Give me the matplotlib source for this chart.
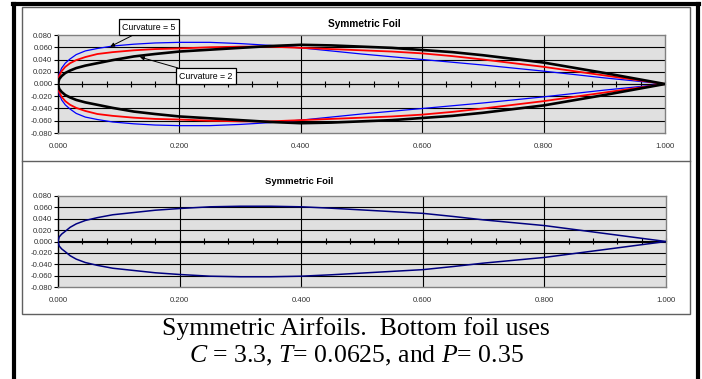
import numpy as np
import matplotlib
matplotlib.use("Agg")
import matplotlib.pyplot as plt
from matplotlib.lines import Line2D

plt.rcParams['font.family'] = ['Liberation Sans', 'DejaVu Sans']
plt.rcParams['mathtext.fontset'] = 'custom'
plt.rcParams['mathtext.rm'] = 'Liberation Serif'
plt.rcParams['mathtext.it'] = 'Liberation Serif:italic'

# chord stations and upper-surface half thickness (lower surface is the mirror)
x_sta = [0, 0.002, 0.006, 0.012, 0.02, 0.03, 0.045, 0.065, 0.09, 0.125, 0.16,
         0.2, 0.25, 0.3, 0.35, 0.4, 0.45, 0.5, 0.55, 0.6, 0.65, 0.7, 0.8,
         0.9, 1.0]
y_curv5 = [0, 0.016, 0.026, 0.034, 0.041, 0.048, 0.054, 0.058, 0.062, 0.065,
           0.067, 0.068, 0.068, 0.066, 0.063, 0.059, 0.054, 0.049, 0.0445,
           0.040, 0.0355, 0.031, 0.021, 0.010, 0]
y_curv3 = [0, 0.013, 0.021, 0.028, 0.034, 0.039, 0.044, 0.049, 0.052, 0.055,
           0.057, 0.058, 0.060, 0.061, 0.061, 0.059, 0.057, 0.055, 0.053,
           0.050, 0.0455, 0.040, 0.028, 0.014, 0]
y_curv2 = [0, 0.008, 0.013, 0.018, 0.022, 0.026, 0.030, 0.034, 0.039, 0.045,
           0.049, 0.053, 0.056, 0.059, 0.062, 0.064, 0.063, 0.061, 0.059,
           0.0555, 0.052, 0.047, 0.035, 0.018, 0]
y_bottom = [0, 0.008, 0.013, 0.018, 0.025, 0.031, 0.037, 0.042, 0.047, 0.051,
            0.055, 0.058, 0.061, 0.062, 0.062, 0.061, 0.0585, 0.0555, 0.0525,
            0.0495, 0.044, 0.038, 0.028, 0.014, 0]

W, H = 702, 379
fig = plt.figure(figsize=(W / 100, H / 100), dpi=100)


def px(x0, y0, x1, y1):
    # figure-fraction rectangle from pixel box
    return [x0 / W, 1 - y1 / H, (x1 - x0) / W, (y1 - y0) / H]


def frame_line(xs, ys, color, lw):
    fig.add_artist(Line2D([v / W for v in xs], [1 - v / H for v in ys],
                          color=color, lw=lw, transform=fig.transFigure))


def foil(x, y):
    xx = np.concatenate([x, x[::-1]])
    yy = np.concatenate([y, -np.array(y)[::-1]])
    return xx, yy


def style_axes(ax):
    ax.set_facecolor('#e0e0e0')
    ax.set_xlim(0, 1.0)
    ax.set_ylim(-0.08, 0.08)
    ax.set_yticks(np.arange(-0.08, 0.0801, 0.02))
    ax.set_yticklabels(['%.3f' % v for v in np.arange(-0.08, 0.0801, 0.02)])
    ax.set_xticks(np.arange(0, 1.001, 0.2))
    ax.set_xticklabels(['%.3f' % v for v in np.arange(0, 1.001, 0.2)])
    ax.tick_params(axis='x', length=0, pad=7, labelsize=5.6, labelcolor='#333333')
    ax.tick_params(axis='y', length=3, width=0.8, pad=1, labelsize=5.6,
                   labelcolor='#333333', color='black')
    for s in ax.spines.values():
        s.set_color('#808080')
        s.set_linewidth(1)
    ax.spines['left'].set_color('black')
    for v in np.arange(-0.06, 0.061, 0.02):
        ax.axhline(v, color='black', lw=0.8, zorder=1)
    for v in [0.2, 0.4, 0.6, 0.8]:
        ax.axvline(v, color='black', lw=0.8, zorder=1)
    sec = ax.secondary_xaxis(0.5)
    sec.set_xticks(np.arange(0, 1.001, 0.04))
    sec.tick_params(direction='inout', length=4, width=0.8, labelbottom=False,
                    labeltop=False, color='black')
    sec.spines['bottom'].set_color('black')
    sec.spines['bottom'].set_linewidth(0.8)


# frames
fig.add_artist(plt.Rectangle((22 / W, 1 - 314 / H), 668 / W, 307 / H,
                             transform=fig.transFigure, fill=False,
                             ec='#606060', lw=1))
frame_line([22, 690], [161, 161], '#606060', 1)
frame_line([14, 14], [4, 379], 'black', 3)
frame_line([698, 698], [4, 379], 'black', 3)
frame_line([13, 699], [4, 4], 'black', 3)

# top chart
ax1 = fig.add_axes(px(58, 35, 665, 133))
style_axes(ax1)
for y, c, lw in [(y_curv5, 'blue', 0.9), (y_curv3, 'red', 1.3),
                 (y_curv2, 'black', 1.9)]:
    xx, yy = foil(x_sta, y)
    ax1.plot(xx, yy, color=c, lw=lw, zorder=3)

bb = dict(boxstyle='square,pad=0.35', fc='white', ec='black', lw=0.9)
ax1.annotate('Curvature = 5', xy=(0.086, 0.061), xytext=(0.150, 0.093),
             fontsize=6.3, ha='center', va='center', bbox=bb,
             annotation_clip=False, zorder=5,
             arrowprops=dict(arrowstyle='-|>', color='black', lw=0.7,
                             mutation_scale=6, shrinkA=0, shrinkB=0))
ax1.annotate('Curvature = 2', xy=(0.135, 0.044), xytext=(0.244, 0.013),
             fontsize=6.3, ha='center', va='center', bbox=bb,
             annotation_clip=False, zorder=5,
             arrowprops=dict(arrowstyle='-|>', color='black', lw=0.7,
                             mutation_scale=6, shrinkA=0, shrinkB=0))
fig.text(364 / W, 1 - 24 / H, 'Symmetric Foil', fontsize=7.3,
         fontweight='bold', ha='center', va='center')

# bottom chart
ax2 = fig.add_axes(px(58, 196, 666, 287))
style_axes(ax2)
xx, yy = foil(x_sta, y_bottom)
ax2.plot(xx, yy, color='#000080', lw=1.1, zorder=3)
fig.text(299 / W, 1 - 182 / H, 'Symmetric Foil', fontsize=6.8,
         fontweight='bold', ha='center', va='center')

# caption
fig.text(356 / W, 1 - 329 / H, 'Symmetric Airfoils.  Bottom foil uses',
         fontsize=18.5, family='Liberation Serif', ha='center', va='center')
fig.text(356 / W, 1 - 356 / H, r'$C$ = 3.3, $T$= 0.0625, and $P$= 0.35',
         fontsize=18.5, family='Liberation Serif', ha='center', va='center')

fig.savefig('out.png', dpi=100)
